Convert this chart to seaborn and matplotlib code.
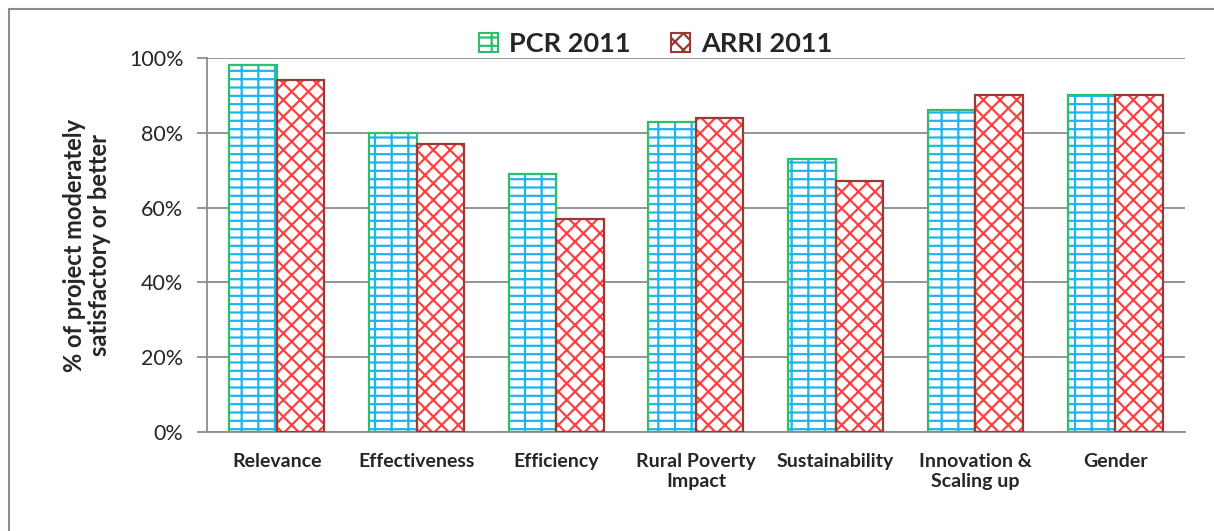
import matplotlib
matplotlib.use("Agg")
import matplotlib.pyplot as plt
from matplotlib.patches import Patch, Rectangle
import numpy as np
import pandas as pd
import seaborn as sns

# data
categories = ["Relevance", "Effectiveness", "Efficiency", "Rural Poverty\nImpact",
              "Sustainability", "Innovation &\nScaling up", "Gender"]
pcr_2011 = [98, 80, 69, 83, 73, 86, 90]
arri_2011 = [94, 77, 57, 84, 67, 90, 90]
series_names = ["PCR 2011", "ARRI 2011"]
y_ticks = [0, 20, 40, 60, 80, 100]

df = pd.DataFrame({
    "category": categories * 2,
    "series": [series_names[0]] * len(categories) + [series_names[1]] * len(categories),
    "value": pcr_2011 + arri_2011,
})

sns.set_style("white")
plt.rcParams["font.family"] = ["Lato", "DejaVu Sans"]
plt.rcParams["hatch.linewidth"] = 1.6

# hatch colour, outline colour, hatch pattern for each series
styles = {
    "PCR 2011": ("#1FB4EC", "#2DBE6C", "--|"),
    "ARRI 2011": ("#FF4040", "#9A3A36", "xx"),
}

fig = plt.figure(figsize=(12.14, 5.31), dpi=100)
ax = fig.add_axes([0.1705, 0.1864, 0.8056, 0.7044])

sns.barplot(data=df, x="category", y="value", hue="series", order=categories,
            hue_order=series_names, width=0.68, gap=0, ax=ax, legend=False,
            errorbar=None, zorder=3)

# each hue is drawn as its own container
for container, name in zip(ax.containers, series_names):
    hatch_col, edge_col, hatch = styles[name]
    for bar in container:
        bar.set_facecolor("white")
        bar.set_hatch(hatch)
        bar.set_edgecolor(hatch_col)
        bar.set_linewidth(0)
        # outline on top so it keeps its own colour
        x, y = bar.get_xy()
        ax.add_patch(Rectangle((x, y), bar.get_width(), bar.get_height(),
                               fill=False, edgecolor=edge_col, linewidth=1.6, zorder=4))

ax.set_ylim(0, 100)
ax.set_yticks(y_ticks)
ax.set_yticklabels([f"{t}%" for t in y_ticks], fontsize=15.5)
ax.set_xlim(-0.5, len(categories) - 0.5)
ax.yaxis.grid(True, color="#8C8C8C", linewidth=1.3, zorder=0)

ax.set_xticks(range(len(categories)))
ax.set_xticklabels(categories, fontsize=14, fontweight="bold", linespacing=1.25)
ax.set_xticks(np.arange(-0.5, len(categories)), minor=True)
ax.tick_params(axis="x", which="major", length=0, pad=15)
ax.tick_params(axis="x", which="minor", length=7, width=1.3, color="#8C8C8C", direction="out")
ax.tick_params(axis="y", length=7, width=1.3, color="#8C8C8C", direction="out", pad=10, left=True)

for side in ["top", "right"]:
    ax.spines[side].set_visible(False)
for side in ["left", "bottom"]:
    ax.spines[side].set_color("#8C8C8C")
    ax.spines[side].set_linewidth(1.3)

ax.set_xlabel("")
ax.set_ylabel("% of project moderately\nsatisfactory or better", fontsize=17,
              fontweight="bold", linespacing=1.1)
ax.yaxis.set_label_coords(-0.098, 0.5)

handles = [Patch(facecolor="white", edgecolor=styles[n][1], hatch=styles[n][2], linewidth=1.5)
           for n in series_names]
leg = fig.legend(handles, series_names, loc="center", bbox_to_anchor=(656 / 1214, 1 - 44 / 531),
                 ncol=2, frameon=False, prop={"weight": "bold", "size": 19.5},
                 handlelength=0.7, handleheight=0.7, columnspacing=1.5, handletextpad=0.4)

# grey chart-area border seen at the top and left
fig.patches.append(Rectangle((9 / 1214, -0.1), 1.2, 1 - 9 / 531 + 0.1, transform=fig.transFigure,
                             fill=False, edgecolor="#8C8C8C", linewidth=1.5))

fig.savefig("out.png", dpi=100)
